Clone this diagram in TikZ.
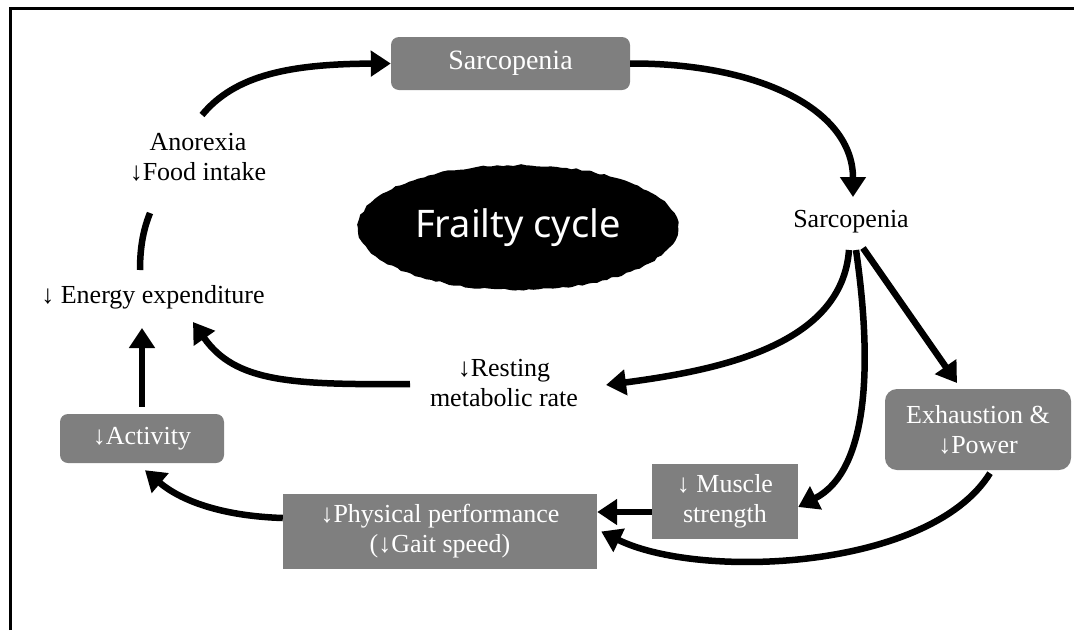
\documentclass[tikz,border=0pt]{standalone}
\usepackage{fontspec}
\setmainfont{Liberation Serif}
\newfontfamily\ellfont{Noto Sans}
\usetikzlibrary{arrows.meta,shapes.geometric,decorations.pathmorphing}
\definecolor{boxgray}{HTML}{7F7F7F}
\begin{document}
\begin{tikzpicture}[x=1pt,y=-1pt,
  txt/.style={font=\fontsize{26}{30}\selectfont, align=center, inner sep=0pt, text=black},
  gbox/.style={txt, fill=boxgray, text=white},
  rbox/.style={gbox, rounded corners=8pt},
  arr/.style={line width=6.5pt, -{Triangle[length=20pt,width=25pt]}},
  seg/.style={line width=6.5pt},
]
\useasboundingbox (0,0) rectangle (1074,630);
\draw[line width=3pt] (10.5,630) -- (10.5,8.5) -- (1074,8.5);

% nodes
\node[rbox, minimum width=239pt, minimum height=53pt, font=\fontsize{28}{32}\selectfont] (topS) at (510.5,63.5) {Sarcopenia};
\node[txt] (rightS) at (851,222) {Sarcopenia};
\node[txt] (anorexia) at (198,157) {Anorexia\\↓Food intake};
\node[txt] (energy) at (153,297) {↓ Energy expenditure};
\node[txt] (resting) at (504,383) {↓Resting\\metabolic rate};
\node[ellipse, fill=black, minimum width=320pt, minimum height=125pt, inner sep=0pt, text=white,
      decorate, decoration={random steps, segment length=5pt, amplitude=1pt},
      font=\ellfont\fontsize{38}{44}\selectfont] (frailty) at (518,227.5) {Frailty cycle};
\node[rbox, rounded corners=12pt, minimum width=186pt, minimum height=81pt] (exh) at (978,429.5) {Exhaustion \&\\↓Power};
\node[gbox, minimum width=146pt, minimum height=75pt] (muscle) at (725,501.5) {↓ Muscle\\strength};
\node[gbox, minimum width=314pt, minimum height=75pt] (phys) at (440,531.5) {↓Physical performance\\(↓Gait speed)};
\node[rbox, minimum width=164pt, minimum height=49pt] (act) at (142,438.5) {↓Activity};

% free ends
\coordinate (anOut) at (202,115);
\coordinate (sIn) at (853,197);
\coordinate (sOutA) at (849,250);
\coordinate (sOutB) at (856,250);
\coordinate (sOutC) at (863,248);
\coordinate (restIn) at (606,385);
\coordinate (restOut) at (410,384);
\coordinate (enInA) at (193,322);
\coordinate (enInB) at (142,328);
\coordinate (enOut) at (140,270);
\coordinate (anIn) at (150,213);
\coordinate (exhIn) at (957,383);

% connectors
\draw[arr] (anOut) .. controls (235,75) and (290,64) .. (topS.west);
\draw[arr] (topS.east) .. controls (760,63) and (853,110) .. (sIn);
\draw[arr] (sOutA) .. controls (842,345) and (720,370) .. (restIn);
\draw[arr] (sOutB) .. controls (872,360) and (870,470) .. ([yshift=-5.5pt]muscle.east);
\draw[arr] (sOutC) -- (exhIn);
\draw[arr] ([yshift=-10.5pt]muscle.west) -- ([yshift=-10.5pt]muscle.west -| phys.east);
\draw[arr] ([xshift=12pt,yshift=-3pt]exh.south) .. controls (930,570) and (700,580) .. ([xshift=4pt]phys.east);
\draw[arr] ([yshift=13.5pt]phys.west) .. controls (220,516) and (180,500) .. ([shift={(3,7)}]act.south);
\draw[arr] ([yshift=7pt]act.north) -- (enInB);
\draw[arr] (restOut) .. controls (290,385) and (235,382) .. (enInA);
\draw[seg] (enOut) .. controls (140,245) and (144,228) .. (anIn);
\end{tikzpicture}
\end{document}
